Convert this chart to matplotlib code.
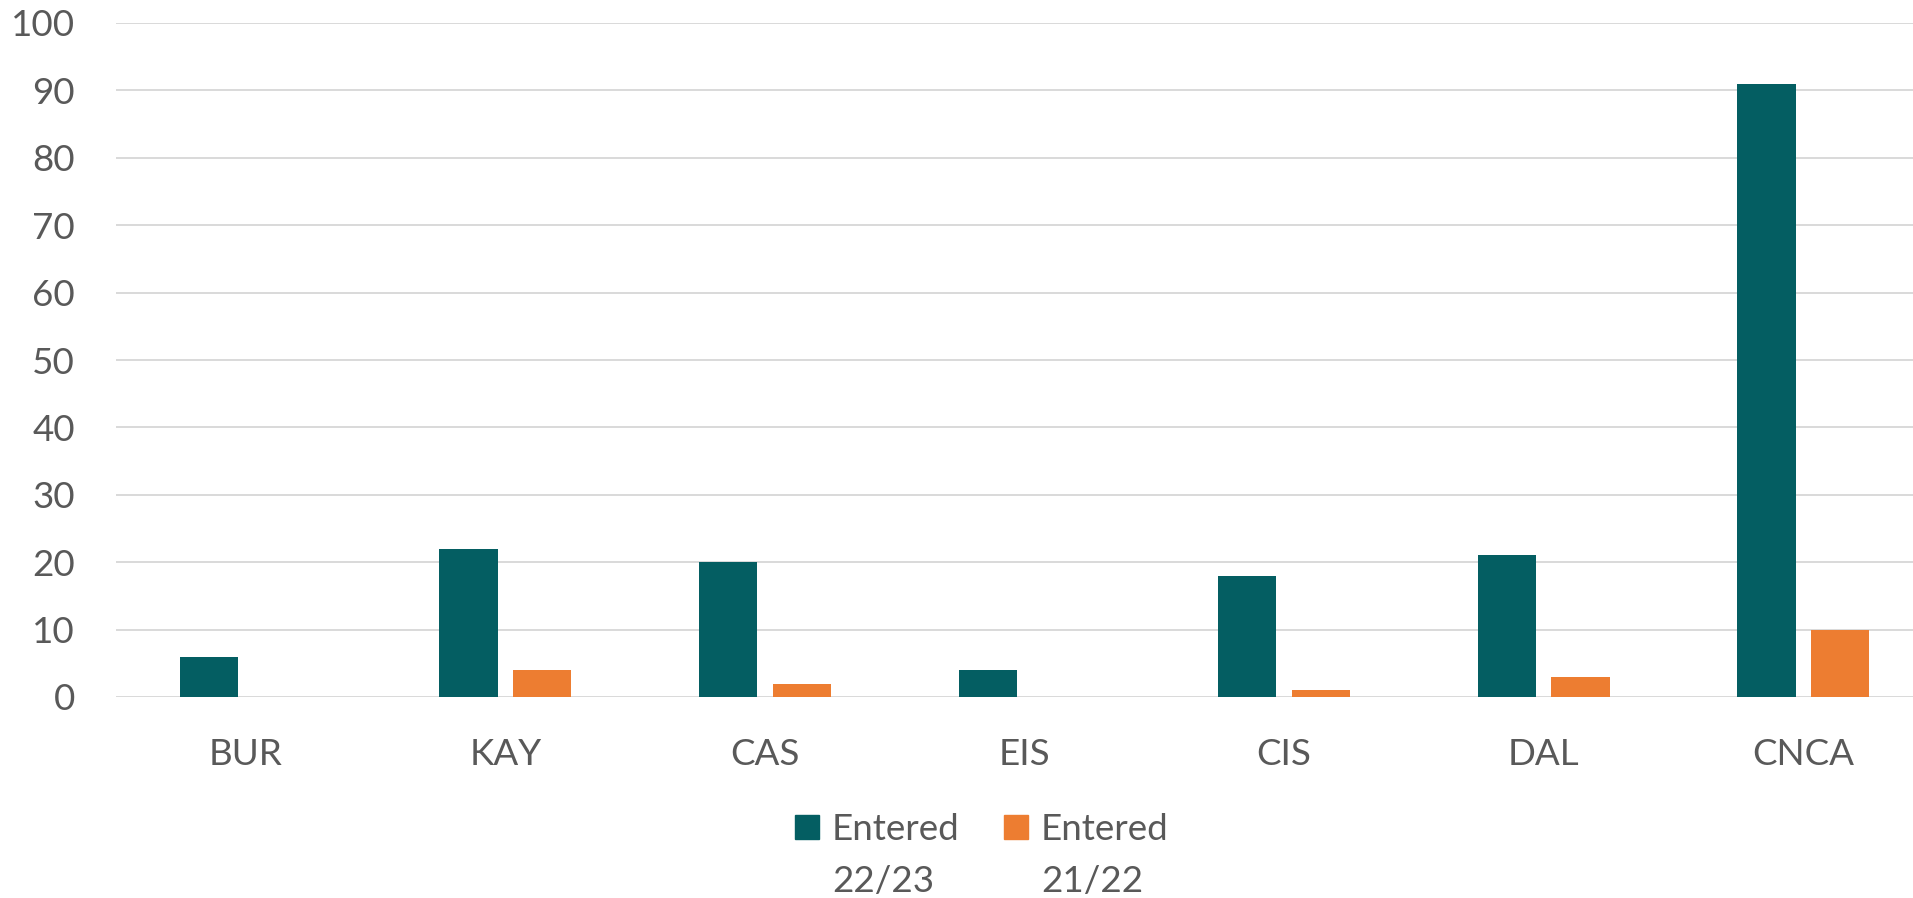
import numpy as np
import matplotlib.pyplot as plt
from matplotlib.patches import Rectangle

# =========================
# Data
# =========================
categories = ["BUR", "KAY", "CAS", "EIS", "CIS", "DAL", "CNCA"]
entered_2223 = [6, 22, 20, 4, 18, 21, 91]
entered_2122 = [0, 4, 2, 0, 1, 3, 10]
series_labels = ["Entered\n22/23", "Entered\n21/22"]
y_ticks = [0, 10, 20, 30, 40, 50, 60, 70, 80, 90, 100]

teal = "#045E62"
orange = "#ED7D31"
text_col = "#595959"
grid_col = "#D9D9D9"

plt.rcParams["font.family"] = ["Lato", "DejaVu Sans"]
fs = 26.5

# =========================
# Figure (pixel layout)
# =========================
W, H = 1913, 898
fig = plt.figure(figsize=(W / 100, H / 100), dpi=100)

left, right, top, bottom = 116, 1933, 23, 697
ax = fig.add_axes([left / W, 1 - bottom / H, (right - left) / W, (bottom - top) / H])

x = np.arange(len(categories))
bw = 0.225
off = 0.1417
ax.bar(x - off, entered_2223, width=bw, color=teal, zorder=3)
ax.bar(x + off, entered_2122, width=bw, color=orange, zorder=3)

ax.set_xlim(-0.5, len(categories) - 0.5)
ax.set_ylim(0, 100)
ax.set_yticks(y_ticks)
ax.set_xticks(x)
ax.set_xticklabels(categories)
ax.yaxis.grid(True, color=grid_col, linewidth=1.4, zorder=0)
ax.set_axisbelow(True)
for s in ax.spines.values():
    s.set_visible(False)
ax.tick_params(axis="both", length=0, labelsize=fs, labelcolor=text_col)
ax.tick_params(axis="y", pad=29.5)
ax.tick_params(axis="x", pad=29.5)

# =========================
# Legend (square + two-line label)
# =========================
sq = 24
legend_x = [795, 1004]
for lx, lab, col in zip(legend_x, series_labels, [teal, orange]):
    fig.patches.append(Rectangle((lx / W, 1 - 839 / H), sq / W, sq / H,
                                 transform=fig.transFigure, color=col))
    for i, line in enumerate(lab.split("\n")):
        fig.text((lx + 37) / W, 1 - (840 + 52 * i) / H, line, fontsize=fs,
                 color=text_col, ha="left", va="baseline")

fig.savefig("out.png", dpi=100)
